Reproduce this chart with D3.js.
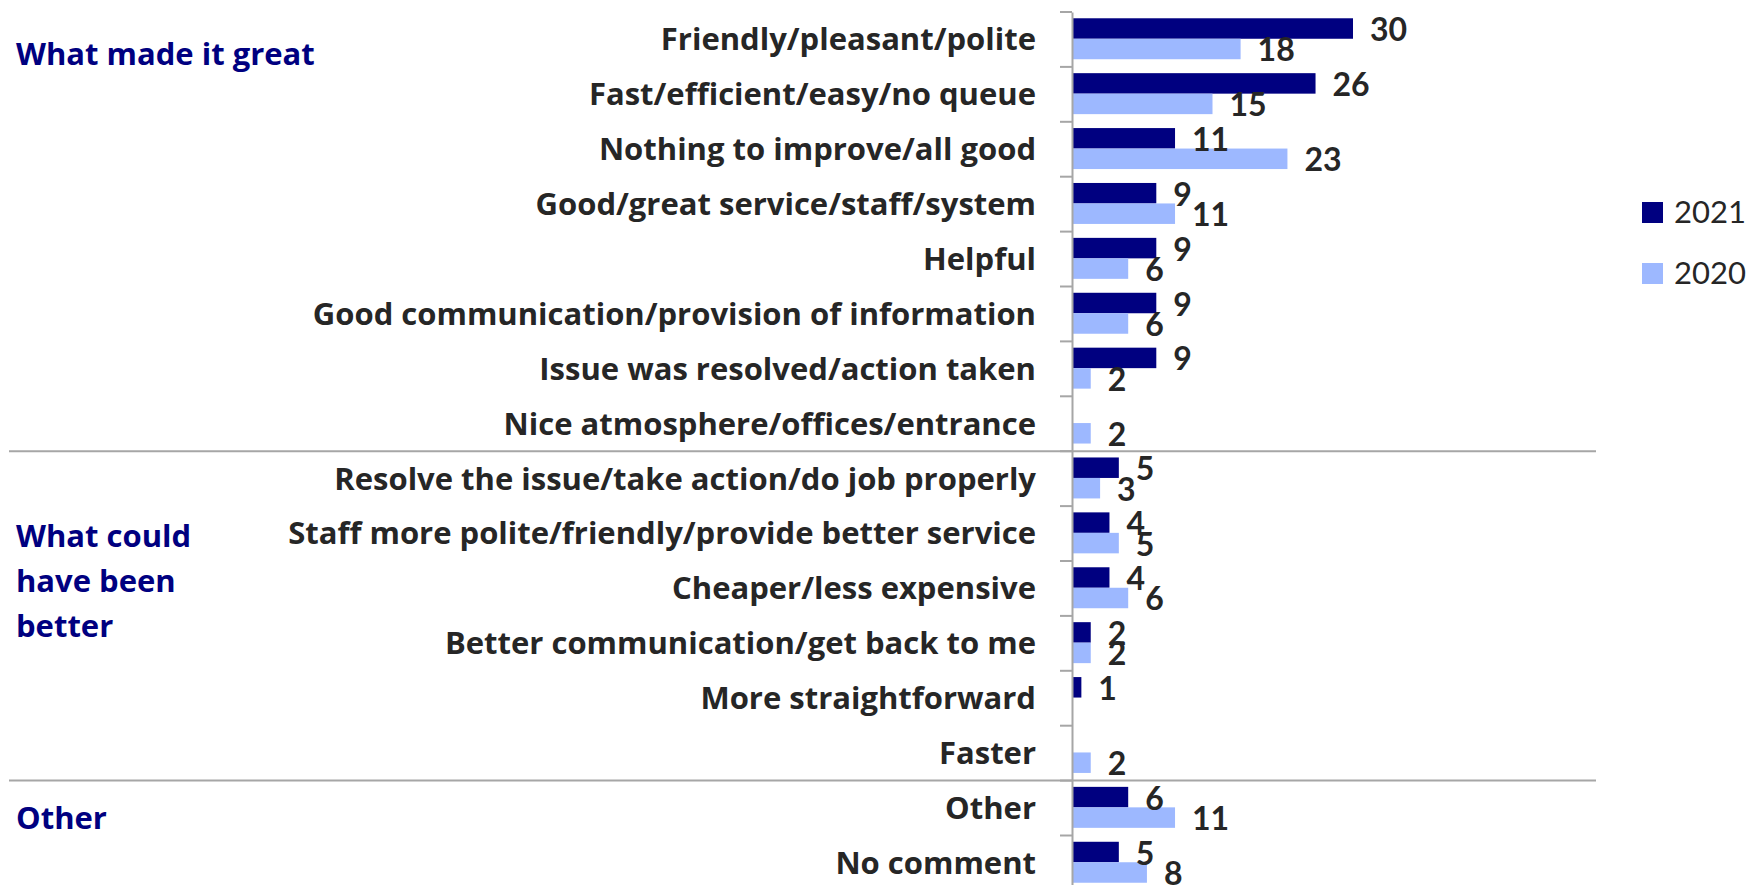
<!DOCTYPE html>
<html>
<head>
<meta charset="utf-8">
<script src="https://cdn.jsdelivr.net/npm/d3@7"></script>
<style>
  body { margin: 0; background: #fff; }
  svg { display: block; font-family: Lato, "Open Sans", sans-serif; }
</style>
</head>
<body>
<svg width="1752" height="885"></svg>
<script>
// chart data
const categories = [
  "Friendly/pleasant/polite",
  "Fast/efficient/easy/no queue",
  "Nothing to improve/all good",
  "Good/great service/staff/system",
  "Helpful",
  "Good communication/provision of information",
  "Issue was resolved/action taken",
  "Nice atmosphere/offices/entrance",
  "Resolve the issue/take action/do job properly",
  "Staff more polite/friendly/provide better service",
  "Cheaper/less expensive",
  "Better communication/get back to me",
  "More straightforward",
  "Faster",
  "Other",
  "No comment"
];
const series = ["2021", "2020"];
const values2021 = [30, 26, 11, 9, 9, 9, 9, null, 5, 4, 4, 2, 1, null, 6, 5];
const values2020 = [18, 15, 23, 11, 6, 6, 2, 2, 3, 5, 6, 2, null, 2, 11, 8];

const groupLabels = [["What made it great"], ["What could", "have been", "better"], ["Other"]];
const groupAnchors = ["Friendly/pleasant/polite", "Staff more polite/friendly/provide better service", "Other"];
const separatorsBefore = ["Resolve the issue/take action/do job properly", "Other"];

const colors = {"2021": "#000080", "2020": "#9db8ff"};
const labelFont = "'Open Sans', Lato, sans-serif";
// nudge of each group label below its anchor row centre
const groupShift = [26, 13, 21];

const svg = d3.select("svg");
const axisX = 1072;

const y = d3.scaleBand()
  .domain(categories)
  .range([12, 12 + 16 * 54.9]);

const ySeries = d3.scaleBand()
  .domain(series)
  .range([0, y.bandwidth()])
  .paddingOuter(0.34)
  .align(0.45);

const x = d3.scaleLinear()
  .domain([0, 30])
  .range([0, 281]);

const rows = categories.map((c, i) => ({
  category: c,
  values: [
    {key: "2021", value: values2021[i]},
    {key: "2020", value: values2020[i]}
  ]
}));

// group separators
svg.selectAll(".sep")
  .data(separatorsBefore)
  .enter().append("line")
  .attr("class", "sep")
  .attr("x1", 9)
  .attr("x2", 1596)
  .attr("y1", d => y(d))
  .attr("y2", d => y(d))
  .attr("stroke", "#a6a6a6")
  .attr("stroke-width", 2);

const g = svg.append("g")
  .attr("transform", `translate(${axisX},0)`);

// bars
const rowG = g.selectAll(".row")
  .data(rows)
  .enter().append("g")
  .attr("class", "row")
  .attr("transform", d => `translate(0,${y(d.category)})`);

rowG.selectAll("rect")
  .data(d => d.values.filter(v => v.value != null))
  .enter().append("rect")
  .attr("x", 0)
  .attr("y", d => ySeries(d.key))
  .attr("width", d => x(d.value))
  .attr("height", ySeries.bandwidth())
  .attr("fill", d => colors[d.key]);

rowG.selectAll("text")
  .data(d => d.values.filter(v => v.value != null))
  .enter().append("text")
  .attr("x", d => x(d.value) + 17)
  .attr("y", d => ySeries(d.key) + ySeries.bandwidth() / 2 + 12.5)
  .attr("fill", "#262626")
  .style("font-size", "32px")
  .style("font-weight", "bold")
  .text(d => d.value);

// axis
const axis = g.append("g")
  .call(d3.axisLeft(y).tickSize(0).tickSizeOuter(0).tickPadding(36));

axis.select(".domain")
  .attr("stroke", "#a6a6a6")
  .attr("stroke-width", 2);

axis.selectAll("text")
  .attr("dy", "0.35em")
  .attr("fill", "#262626")
  .style("font-size", "31px")
  .style("font-weight", "bold")
  .style("font-family", labelFont);

// boundary ticks
g.selectAll(".btick")
  .data(categories)
  .enter().append("line")
  .attr("class", "btick")
  .attr("x1", -12)
  .attr("x2", 0)
  .attr("y1", d => y(d))
  .attr("y2", d => y(d))
  .attr("stroke", "#a6a6a6")
  .attr("stroke-width", 2);

// group labels on the left
const grp = svg.selectAll(".group")
  .data(groupLabels)
  .enter().append("text")
  .attr("class", "group")
  .attr("x", 16)
  .attr("y", (d, i) => y(groupAnchors[i]) + y.bandwidth() / 2 + groupShift[i])
  .attr("fill", "#000080")
  .style("font-size", "31px")
  .style("font-weight", "bold")
  .style("font-family", labelFont);

grp.selectAll("tspan")
  .data(d => d)
  .enter().append("tspan")
  .attr("x", 16)
  .attr("dy", (d, i) => i === 0 ? 0 : 45)
  .text(d => d);

// legend
const legend = svg.selectAll(".legend")
  .data(series)
  .enter().append("g")
  .attr("class", "legend")
  .attr("transform", (d, i) => `translate(1642,${202 + i * 61})`);

legend.append("rect")
  .attr("width", 21)
  .attr("height", 21)
  .attr("fill", d => colors[d]);

legend.append("text")
  .attr("x", 32)
  .attr("y", 21)
  .attr("fill", "#262626")
  .style("font-size", "31px")
  .text(d => d);
</script>
</body>
</html>
